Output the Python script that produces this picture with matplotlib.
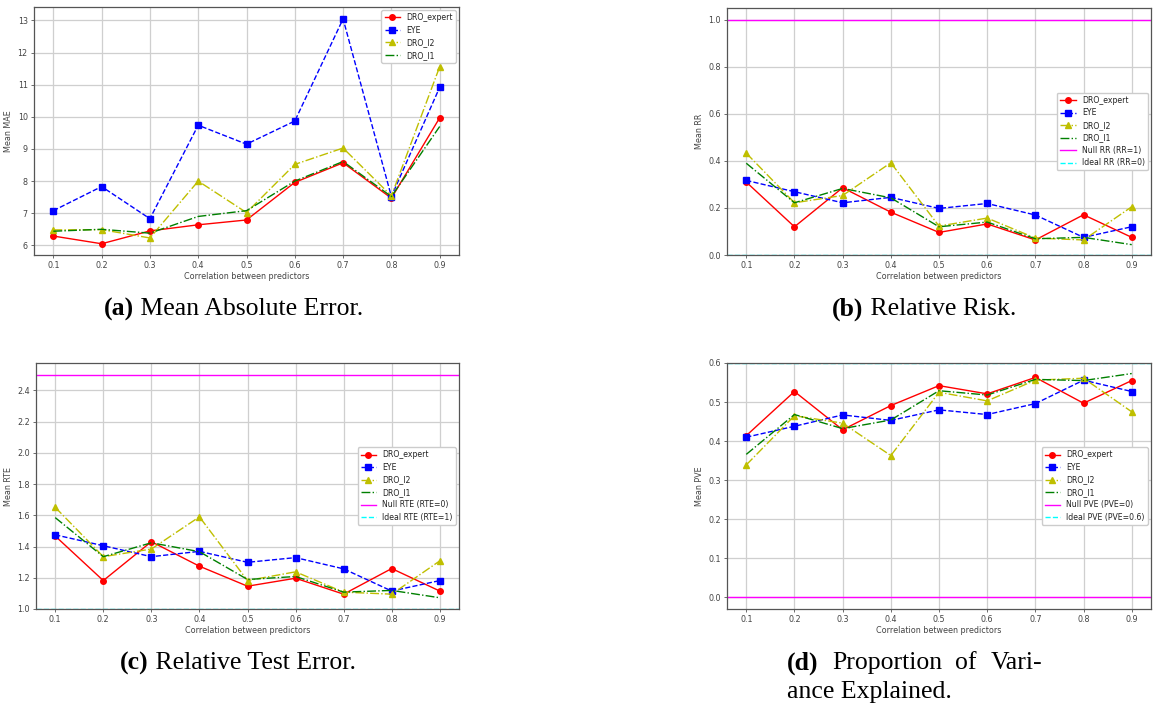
import matplotlib
matplotlib.use("Agg")
import matplotlib.pyplot as plt
import numpy as np

# ---------------- data ----------------
corr = [0.1, 0.2, 0.3, 0.4, 0.5, 0.6, 0.7, 0.8, 0.9]
series_names = ["DRO_expert", "EYE", "DRO_l2", "DRO_l1"]

mae_dro_expert = [6.29, 6.05, 6.45, 6.64, 6.79, 7.96, 8.57, 7.47, 9.97]
mae_eye = [7.08, 7.83, 6.83, 9.74, 9.15, 9.87, 13.05, 7.52, 10.92]
mae_dro_l2 = [6.48, 6.49, 6.23, 8.00, 7.02, 8.52, 9.03, 7.54, 11.56]
mae_dro_l1 = [6.44, 6.50, 6.38, 6.90, 7.08, 8.00, 8.61, 7.52, 9.70]

rr_dro_expert = [0.310, 0.120, 0.286, 0.182, 0.096, 0.132, 0.064, 0.171, 0.075]
rr_eye = [0.317, 0.269, 0.222, 0.245, 0.198, 0.219, 0.170, 0.075, 0.120]
rr_dro_l2 = [0.433, 0.222, 0.253, 0.392, 0.123, 0.157, 0.072, 0.064, 0.205]
rr_dro_l1 = [0.390, 0.222, 0.283, 0.243, 0.120, 0.140, 0.069, 0.075, 0.044]
rr_null = 1.0
rr_ideal = 0.0

rte_dro_expert = [1.467, 1.182, 1.431, 1.274, 1.146, 1.197, 1.095, 1.259, 1.115]
rte_eye = [1.475, 1.405, 1.335, 1.369, 1.299, 1.329, 1.257, 1.115, 1.182]
rte_dro_l2 = [1.651, 1.335, 1.384, 1.590, 1.182, 1.238, 1.108, 1.095, 1.308]
rte_dro_l1 = [1.585, 1.335, 1.424, 1.367, 1.189, 1.208, 1.108, 1.119, 1.072]
rte_null = 2.5
rte_ideal = 1.0

pve_dro_expert = [0.414, 0.527, 0.429, 0.491, 0.542, 0.521, 0.563, 0.497, 0.555]
pve_eye = [0.410, 0.438, 0.467, 0.453, 0.480, 0.468, 0.496, 0.556, 0.527]
pve_dro_l2 = [0.339, 0.465, 0.446, 0.363, 0.525, 0.503, 0.556, 0.561, 0.475]
pve_dro_l1 = [0.366, 0.468, 0.432, 0.454, 0.529, 0.518, 0.558, 0.555, 0.573]
pve_null = 0.0
pve_ideal = 0.6

# ---------------- style ----------------
W, H = 1153, 711
fig = plt.figure(figsize=(W / 100, H / 100), dpi=100)
fig.patch.set_facecolor("white")

styles = [
    dict(color="red", linestyle="-", marker="o"),
    dict(color="blue", linestyle="--", marker="s"),
    dict(color="y", linestyle="-.", marker="^"),
    dict(color="g", linestyle="-.", marker=None),
]

TICK_FS = 5.8
LAB_FS = 5.8
LEG_FS = 5.6
TXT_COL = "#444444"


def make_axes(left, top, right, bottom):
    return fig.add_axes([left / W, 1 - bottom / H, (right - left) / W, (bottom - top) / H])


def style_axes(ax, ylabel, yticks, ylim):
    ax.set_xlim(0.06, 0.94)
    ax.set_ylim(*ylim)
    ax.set_xticks(corr)
    ax.set_xticklabels([f"{c:.1f}" for c in corr])
    ax.set_yticks(yticks)
    ax.grid(True, color="#cfcfcf", linewidth=0.9)
    ax.set_axisbelow(True)
    ax.tick_params(labelsize=TICK_FS, colors="#555555", labelcolor=TXT_COL,
                   length=2.5, width=0.6, pad=2)
    for s in ax.spines.values():
        s.set_color("#555555")
        s.set_linewidth(0.9)
    ax.set_xlabel("Correlation between predictors", fontsize=LAB_FS, color=TXT_COL, labelpad=1.5)
    ax.set_ylabel(ylabel, fontsize=LAB_FS, color=TXT_COL, labelpad=3)


def plot_series(ax, data):
    for name, vals, st in zip(series_names, data, styles):
        ax.plot(corr, vals, label=name, linewidth=1.0, markersize=4, **st)


def legend(ax, loc):
    leg = ax.legend(loc=loc, fontsize=LEG_FS, framealpha=1.0, edgecolor="#cccccc",
                    borderpad=0.4, labelspacing=0.45, handlelength=2.0, handletextpad=0.8,
                    borderaxespad=0.4)
    for t in leg.get_texts():
        t.set_color("#222222")


# (a) MAE
ax1 = make_axes(34, 7, 459, 255)
plot_series(ax1, [mae_dro_expert, mae_eye, mae_dro_l2, mae_dro_l1])
style_axes(ax1, "Mean MAE", np.arange(6, 14, 1), (5.70, 13.42))
ax1.set_yticklabels([str(v) for v in range(6, 14)])
legend(ax1, "upper right")

# (b) RR
ax2 = make_axes(727, 8, 1151, 255)
plot_series(ax2, [rr_dro_expert, rr_eye, rr_dro_l2, rr_dro_l1])
ax2.axhline(rr_null, color="magenta", linestyle="-", linewidth=1.0, label="Null RR (RR=1)")
ax2.axhline(rr_ideal, color="cyan", linestyle="--", linewidth=1.0, label="Ideal RR (RR=0)")
style_axes(ax2, "Mean RR", np.round(np.arange(0, 1.01, 0.2), 1), (0.0, 1.05))
legend(ax2, "center right")

# (c) RTE
ax3 = make_axes(36, 363, 459, 609)
plot_series(ax3, [rte_dro_expert, rte_eye, rte_dro_l2, rte_dro_l1])
ax3.axhline(rte_null, color="magenta", linestyle="-", linewidth=1.0, label="Null RTE (RTE=0)")
ax3.axhline(rte_ideal, color="cyan", linestyle="--", linewidth=1.0, label="Ideal RTE (RTE=1)")
style_axes(ax3, "Mean RTE", np.round(np.arange(1.0, 2.41, 0.2), 1), (1.0, 2.575))
legend(ax3, "center right")

# (d) PVE
ax4 = make_axes(727, 363, 1151, 609)
plot_series(ax4, [pve_dro_expert, pve_eye, pve_dro_l2, pve_dro_l1])
ax4.axhline(pve_null, color="magenta", linestyle="-", linewidth=1.0, label="Null PVE (PVE=0)")
ax4.axhline(pve_ideal, color="cyan", linestyle="--", linewidth=1.0, label="Ideal PVE (PVE=0.6)")
style_axes(ax4, "Mean PVE", np.round(np.arange(0, 0.61, 0.1), 1), (-0.03, 0.6))
legend(ax4, "center right")

# ---------------- captions ----------------
CAP_FS = 18.5
SERIF = ["Liberation Serif", "DejaVu Serif"]


def caption(x_center, y, bold, rest):
    t1 = fig.text(0, 0, bold, fontsize=CAP_FS, fontweight="bold", family=SERIF)
    t2 = fig.text(0, 0, rest, fontsize=CAP_FS, family=SERIF)
    r = fig.canvas.get_renderer()
    w1 = t1.get_window_extent(r).width
    w2 = t2.get_window_extent(r).width
    x0 = x_center - (w1 + w2) / 2
    t1.set_position((x0 / W, 1 - y / H))
    t1.set_va("center")
    t2.set_position(((x0 + w1) / W, 1 - y / H))
    t2.set_va("center")


caption(234, 309, "(a)", " Mean Absolute Error.")
caption(924, 309, "(b)", " Relative Risk.")
caption(238, 663, "(c)", " Relative Test Error.")

# (d) justified two-line caption
r = fig.canvas.get_renderer()
line1 = [("(d)", "bold"), ("Proportion", "normal"), ("of", "normal"), ("Vari-", "normal")]
x_left, x_right, y1, y2 = 787, 1042, 663, 692
texts = []
widths = []
for word, wt in line1:
    t = fig.text(0, 0, word, fontsize=CAP_FS, fontweight=wt, family=SERIF, va="center")
    texts.append(t)
    widths.append(t.get_window_extent(r).width)
gap = (x_right - x_left - sum(widths)) / (len(widths) - 1)
x = x_left
for t, w in zip(texts, widths):
    t.set_position((x / W, 1 - y1 / H))
    x += w + gap
fig.text(x_left / W, 1 - y2 / H, "ance Explained.", fontsize=CAP_FS, family=SERIF, va="center")

fig.savefig("out.png", dpi=100, facecolor="white")
